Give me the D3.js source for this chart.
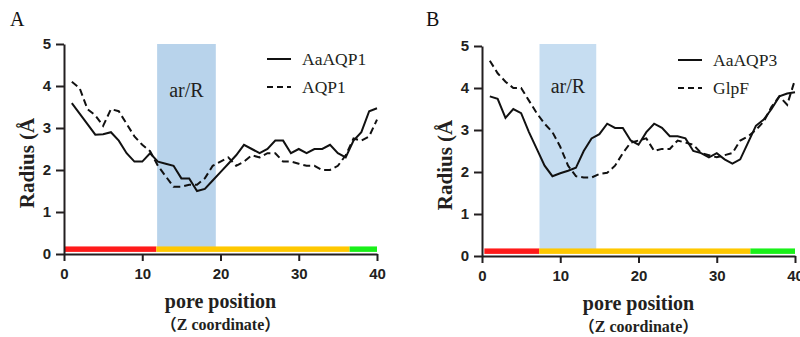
<!DOCTYPE html>
<html>
<head>
<meta charset="utf-8">
<script src="https://cdn.jsdelivr.net/npm/d3@7"></script>
<style>
  body { margin: 0; background: #fff; }
  svg { display: block; }
  .tick text { font-family: "Liberation Sans", Arial, sans-serif; font-weight: bold; font-size: 15px; fill: #231f20; }
  .axis path, .axis line { stroke: #231f20; stroke-width: 2px; }
</style>
</head>
<body>
<svg id="chart" width="800" height="337"></svg>
<script>
// pore positions 1..40
const positions = d3.range(1, 41);

// panel A
const aaAQP1 = [3.59, 3.34, 3.09, 2.84, 2.85, 2.9, 2.7, 2.4, 2.2, 2.2,
                2.4, 2.2, 2.15, 2.1, 1.8, 1.8, 1.5, 1.55, 1.75, 1.95,
                2.15, 2.35, 2.6, 2.5, 2.4, 2.5, 2.7, 2.7, 2.4, 2.5,
                2.4, 2.5, 2.5, 2.6, 2.4, 2.3, 2.7, 2.9, 3.4, 3.47];
const AQP1 = [4.1, 3.95, 3.45, 3.3, 3.05, 3.45, 3.4, 3.1, 2.8, 2.6,
              2.45, 2.1, 1.85, 1.6, 1.6, 1.65, 1.65, 1.8, 2.1, 2.2,
              2.3, 2.1, 2.2, 2.35, 2.3, 2.4, 2.4, 2.2, 2.2, 2.15,
              2.1, 2.1, 2.0, 2.0, 2.1, 2.35, 2.75, 2.7, 2.8, 3.2];

// panel B
const aaAQP3 = [3.8, 3.74, 3.29, 3.5, 3.4, 2.95, 2.55, 2.15, 1.9, 1.97,
                2.03, 2.1, 2.5, 2.8, 2.9, 3.15, 3.05, 3.05, 2.75, 2.65,
                2.95, 3.15, 3.05, 2.85, 2.85, 2.8, 2.5, 2.45, 2.35, 2.45,
                2.3, 2.2, 2.3, 2.7, 3.1, 3.25, 3.5, 3.8, 3.87, 3.9];
const GlpF = [4.65, 4.35, 4.15, 4.0, 4.0, 3.7, 3.4, 3.15, 2.95, 2.6,
              2.15, 1.9, 1.87, 1.87, 1.95, 1.98, 2.15, 2.45, 2.7, 2.75,
              2.8, 2.5, 2.55, 2.55, 2.75, 2.7, 2.65, 2.45, 2.4, 2.35,
              2.4, 2.45, 2.75, 2.85, 3.0, 3.2, 3.55, 3.8, 3.6, 4.2];

// shaded ar/R ranges and colored segments (start, end)
const arRA = [11.9, 19.4];
const arRB = [7.35, 14.6];
const segmentsA = [[0.1, 11.8, "#ff1a1a"], [11.8, 36.5, "#ffc800"], [36.5, 40, "#19f019"]];
const segmentsB = [[0.3, 7.3, "#ff1a1a"], [7.3, 34.3, "#ffc800"], [34.3, 40, "#19f019"]];

const xTicks = [0, 10, 20, 30, 40];
const yTicks = [0, 1, 2, 3, 4, 5];

const svg = d3.select("#chart");

function drawPanel(cfg) {
  const g = svg.append("g");

  const x = d3.scaleLinear().domain([0, 40]).range([cfg.left, cfg.right]);
  const y = d3.scaleLinear().domain([0, 5]).range([cfg.bottom, cfg.top]);

  // ar/R band
  g.append("rect")
    .attr("x", x(cfg.band[0]))
    .attr("y", y(5) - cfg.bandUp)
    .attr("width", x(cfg.band[1]) - x(cfg.band[0]))
    .attr("height", y(0.12) - y(5) + cfg.bandUp)
    .attr("fill", cfg.bandColor);

  g.append("text")
    .attr("x", x((cfg.band[0] + cfg.band[1]) / 2))
    .attr("y", cfg.arY)
    .attr("text-anchor", "middle")
    .style("font-family", "'Liberation Serif', 'Times New Roman', serif")
    .style("font-size", "20px")
    .attr("fill", "#231f20")
    .text("ar/R");

  // colored segments along the bottom
  g.selectAll(".seg")
    .data(cfg.segments)
    .enter()
    .append("rect")
      .attr("x", d => x(d[0]))
      .attr("y", y(0.18))
      .attr("width", d => x(d[1]) - x(d[0]))
      .attr("height", y(0.05) - y(0.18))
      .attr("fill", d => d[2]);

  const line = d3.line()
    .x((d, i) => x(positions[i]))
    .y(d => y(d));

  g.append("path")
    .datum(cfg.dashed)
    .attr("d", line)
    .attr("fill", "none")
    .attr("stroke", "#111")
    .attr("stroke-width", 2)
    .attr("stroke-dasharray", "7,4");

  g.append("path")
    .datum(cfg.solid)
    .attr("d", line)
    .attr("fill", "none")
    .attr("stroke", "#111")
    .attr("stroke-width", 2);

  // axes
  g.append("g")
    .attr("class", "axis")
    .attr("transform", `translate(0,${cfg.bottom})`)
    .call(d3.axisBottom(x).tickValues(xTicks).tickFormat(d3.format("d"))
      .tickSize(7).tickPadding(7).tickSizeOuter(0));

  g.append("g")
    .attr("class", "axis")
    .attr("transform", `translate(${cfg.left},0)`)
    .call(d3.axisLeft(y).tickValues(yTicks).tickFormat(d3.format("d"))
      .tickSize(8).tickPadding(5).tickSizeOuter(0));

  // axis labels
  g.append("text")
    .attr("transform", `translate(${cfg.left - 30},${(cfg.top + cfg.bottom) / 2 + 14}) rotate(-90)`)
    .attr("text-anchor", "middle")
    .style("font-family", "'Liberation Serif', 'Times New Roman', serif")
    .style("font-weight", "bold")
    .style("font-size", "21px")
    .attr("fill", "#231f20")
    .text("Radius (Å");

  const cx = (cfg.left + cfg.right) / 2;
  g.append("text")
    .attr("x", cx)
    .attr("y", cfg.bottom + 54)
    .attr("text-anchor", "middle")
    .style("font-family", "'Liberation Serif', 'Times New Roman', serif")
    .style("font-weight", "bold")
    .style("font-size", "20px")
    .attr("fill", "#231f20")
    .text("pore position");

  g.append("text")
    .attr("x", cx)
    .attr("y", cfg.bottom + 76)
    .attr("text-anchor", "middle")
    .style("font-family", "'Liberation Serif', 'Noto Sans CJK SC', serif")
    .style("font-weight", "bold")
    .style("font-size", "16px")
    .attr("fill", "#231f20")
    .text("（Z coordinate）");

  // panel letter
  g.append("text")
    .attr("x", cfg.letterX)
    .attr("y", 26)
    .style("font-family", "'Liberation Serif', 'Times New Roman', serif")
    .style("font-size", "20px")
    .attr("fill", "#111")
    .text(cfg.letter);

  // legend
  const leg = g.append("g").attr("transform", `translate(${cfg.legX},${cfg.legY})`);
  [[cfg.names[0], null], [cfg.names[1], "6,4"]].forEach((d, i) => {
    leg.append("line")
      .attr("x1", 0).attr("x2", 24)
      .attr("y1", i * 28).attr("y2", i * 28)
      .attr("stroke", "#111")
      .attr("stroke-width", 2)
      .attr("stroke-dasharray", d[1]);
    leg.append("text")
      .attr("x", 35)
      .attr("y", i * 28 + 6)
      .style("font-family", "'Liberation Serif', 'Times New Roman', serif")
      .style("font-size", "17.5px")
      .attr("fill", "#231f20")
      .text(d[0]);
  });
}

drawPanel({
  left: 64, right: 377, top: 44, bottom: 254,
  band: arRA, bandColor: "#b8d3eb", bandUp: 0, arY: 97,
  segments: segmentsA, solid: aaAQP1, dashed: AQP1,
  names: ["AaAQP1", "AQP1"], legX: 267, legY: 59,
  letter: "A", letterX: 10
});

drawPanel({
  left: 482, right: 795, top: 46, bottom: 256,
  band: arRB, bandColor: "#c6ddf1", bandUp: 2, arY: 93,
  segments: segmentsB, solid: aaAQP3, dashed: GlpF,
  names: ["AaAQP3", "GlpF"], legX: 678, legY: 60,
  letter: "B", letterX: 426
});
</script>
</body>
</html>
